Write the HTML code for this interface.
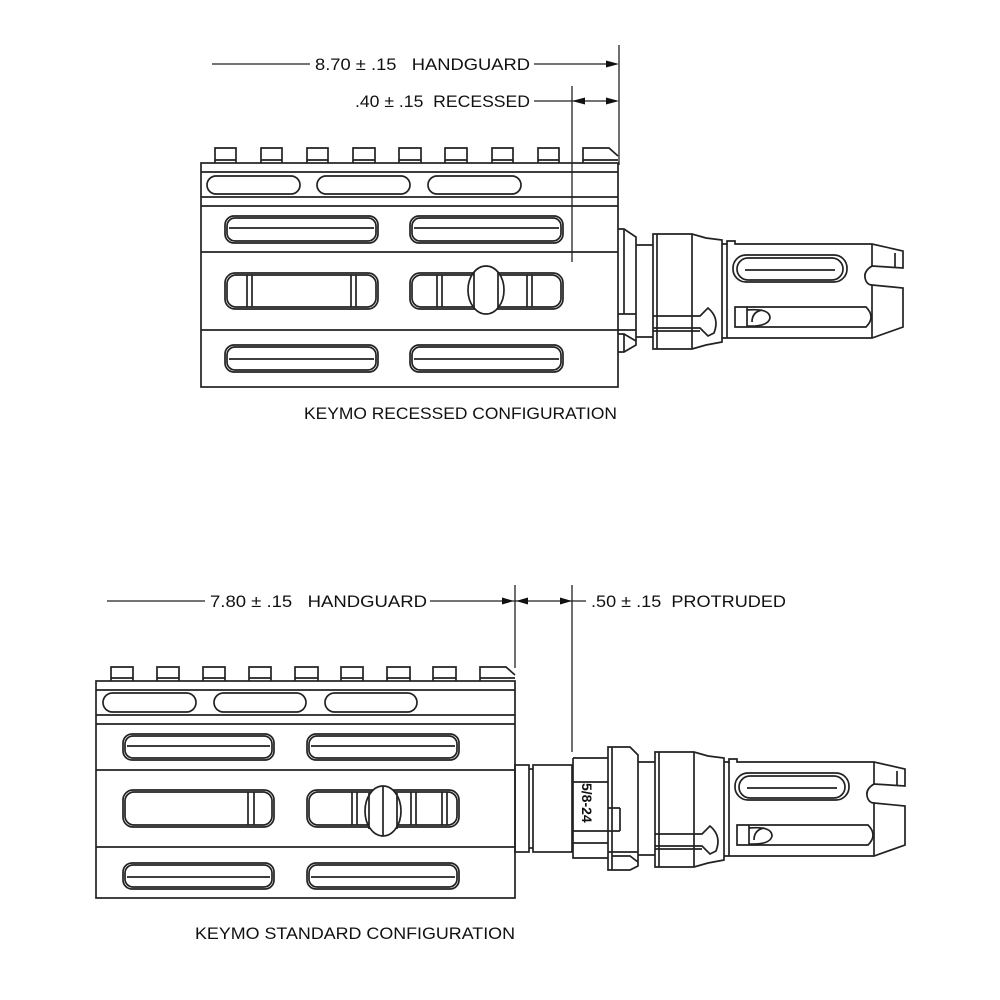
<!DOCTYPE html>
<html><head><meta charset="utf-8"><style>
html,body{margin:0;padding:0;background:#fff;width:1000px;height:1000px;overflow:hidden}
svg{display:block}
text{font-family:"Liberation Sans",sans-serif;font-size:17px;fill:#111}
</style></head><body>
<svg width="1000" height="1000" viewBox="0 0 1000 1000" xmlns="http://www.w3.org/2000/svg">
<defs>
<g id="hider" fill="none" stroke="#222" stroke-width="1.7">
  <path d="M653,234 L692,234 L706,238 L722,240 L722,342 L706,345 L692,349 L653,349 Z"/>
  <line x1="657" y1="234" x2="657" y2="349"/>
  <line x1="692" y1="234" x2="692" y2="349"/>
  <path d="M653,316 L700,316 L708,308 Q720,318 714,333 L708,336 L700,328 L653,328" />
  <line x1="653" y1="331" x2="700" y2="331"/>
  <path d="M722,244 L727,244 L727,241 L735,241 L735,244 L872,244 L903,251 L903,268 L872,266 Q862,272 866,281 Q868,285 872,285 L903,288 L903,327 L872,338 L727,338 L722,338"/>
  <line x1="727" y1="244" x2="727" y2="338"/>
  <line x1="872" y1="244" x2="872" y2="266"/>
  <line x1="872" y1="285" x2="872" y2="338"/>
  <line x1="895" y1="253" x2="895" y2="268"/>
  <rect x="733" y="255" width="114" height="27" rx="13"/>
  <rect x="737" y="258" width="106" height="22" rx="11"/>
  <line x1="745" y1="270" x2="835" y2="270"/>
  <path d="M735,307 L866,307 Q876,317 866,327 L735,327 Z"/>
  <path d="M747,307 L747,327 M747,310 Q770,308 770,318 Q768,327 747,326 M752,322 Q752,312 762,310"/>
</g>
</defs>

<g fill="none" stroke="#222" stroke-width="1.7">
<path d="M215,163 L215,148 L236,148 L236,163 M261,163 L261,148 L282,148 L282,163 M307,163 L307,148 L328,148 L328,163 M353,163 L353,148 L375,148 L375,163 M399,163 L399,148 L421,148 L421,163 M445,163 L445,148 L467,148 L467,163 M492,163 L492,148 L513,148 L513,163 M538,163 L538,148 L559,148 L559,163 M583,163 L583,148 L609,148 L618,156"/>
<path d="M215,160 H236 M261,160 H282 M307,160 H328 M353,160 H375 M399,160 H421 M445,160 H467 M492,160 H513 M538,160 H559 M583,160 H618"/>
<rect x="201" y="163" width="417" height="224"/>
<line x1="201" y1="172" x2="618" y2="172"/>
<line x1="201" y1="197" x2="618" y2="197"/>
<line x1="201" y1="206" x2="618" y2="206"/>
<line x1="201" y1="252" x2="618" y2="252"/>
<line x1="201" y1="330" x2="618" y2="330"/>
<rect x="207" y="176" width="93" height="18" rx="9"/>
<rect x="317" y="176" width="93" height="18" rx="9"/>
<rect x="428" y="176" width="93" height="18" rx="9"/>
<rect x="225" y="216" width="153" height="27" rx="9"/>
<rect x="227" y="218" width="149" height="23" rx="8"/>
<path d="M229,228 H374"/>
<rect x="410" y="216" width="153" height="27" rx="9"/>
<rect x="412" y="218" width="149" height="23" rx="8"/>
<path d="M414,228 H559"/>
<rect x="225" y="273" width="153" height="36" rx="10"/>
<rect x="227" y="275" width="149" height="32" rx="9"/>
<path d="M247,275 V307 M252,275 V307 M351,275 V307 M356,275 V307"/>
<rect x="410" y="273" width="153" height="36" rx="10"/>
<rect x="412" y="275" width="149" height="32" rx="9"/>
<path d="M437,275 V307 M442,275 V307 M527,275 V307 M532,275 V307"/>
<ellipse cx="486" cy="290" rx="18" ry="24" fill="#fff"/>
<path d="M474,272 V308 M498,272 V308"/>
<rect x="225" y="345" width="153" height="27" rx="9"/>
<rect x="227" y="347" width="149" height="23" rx="8"/>
<path d="M229,359 H374"/>
<rect x="410" y="345" width="153" height="27" rx="9"/>
<rect x="412" y="347" width="149" height="23" rx="8"/>
<path d="M414,359 H559"/>
<path d="M618,229 L624,229 L636,237 L636,345 L624,352 L618,352"/>
<path d="M618,314 H636 M618,330 H636 M618,334 L624,334 L636,341"/>
<path d="M624,229 V314 M624,334 V352"/>
<path d="M636,245 H653 M636,337 H653"/>
</g>
<use href="#hider"/>

<g stroke="#222" stroke-width="1.3" fill="none">
<line x1="212" y1="64" x2="310" y2="64"/>
<line x1="534" y1="64" x2="608" y2="64"/>
<line x1="534" y1="101" x2="608" y2="101"/>
<line x1="619" y1="45" x2="619" y2="165"/>
<line x1="572" y1="86" x2="572" y2="262"/>
</g>
<g fill="#111">
<polygon points="619,64 606,60.5 606,67.5"/>
<polygon points="619,101 606,97.5 606,104.5"/>
<polygon points="572,101 585,97.5 585,104.5"/>
</g>
<text x="315" y="70" textLength="215" lengthAdjust="spacingAndGlyphs">8.70 ± .15&#160;&#160;&#160;HANDGUARD</text>
<text x="355" y="107" textLength="175" lengthAdjust="spacingAndGlyphs">.40 ± .15&#160;&#160;RECESSED</text>
<text x="304" y="419" textLength="313" lengthAdjust="spacingAndGlyphs">KEYMO RECESSED CONFIGURATION</text>

<g fill="none" stroke="#222" stroke-width="1.7">
<path d="M111,681 V667 H133 V681 M157,681 V667 H179 V681 M203,681 V667 H225 V681 M249,681 V667 H271 V681 M295,681 V667 H318 V681 M341,681 V667 H363 V681 M387,681 V667 H410 V681 M433,681 V667 H456 V681 M480,681 V667 H506 L515,675"/>
<path d="M111,678 H133 M157,678 H179 M203,678 H225 M249,678 H271 M295,678 H318 M341,678 H363 M387,678 H410 M433,678 H456 M480,678 H515"/>
<rect x="96" y="681" width="419" height="217"/>
<line x1="96" y1="690" x2="515" y2="690"/>
<line x1="96" y1="715" x2="515" y2="715"/>
<line x1="96" y1="724" x2="515" y2="724"/>
<line x1="96" y1="770" x2="515" y2="770"/>
<line x1="96" y1="847" x2="515" y2="847"/>
<rect x="103" y="693" width="93" height="19" rx="9.5"/>
<rect x="214" y="693" width="92" height="19" rx="9.5"/>
<rect x="325" y="693" width="92" height="19" rx="9.5"/>
<rect x="123" y="734" width="151" height="26" rx="9"/>
<rect x="125" y="736" width="147" height="22" rx="8"/>
<path d="M127,746 H270"/>
<rect x="307" y="734" width="152" height="26" rx="9"/>
<rect x="309" y="736" width="148" height="22" rx="8"/>
<path d="M311,746 H455"/>
<rect x="123" y="790" width="151" height="37" rx="10"/>
<rect x="125" y="792" width="147" height="33" rx="9"/>
<path d="M248,792 V825 M254,792 V825"/>
<rect x="307" y="790" width="152" height="37" rx="10"/>
<rect x="309" y="792" width="148" height="33" rx="9"/>
<path d="M352,792 V825 M357,792 V825 M411,792 V825 M416,792 V825 M442,792 V825 M447,792 V825"/>
<ellipse cx="383" cy="811" rx="18" ry="25" fill="#fff"/>
<path d="M383,786 V836 M369,793 V829 M397,793 V829"/>
<rect x="123" y="863" width="151" height="26" rx="9"/>
<rect x="125" y="865" width="147" height="22" rx="8"/>
<path d="M127,877 H270"/>
<rect x="307" y="863" width="152" height="26" rx="9"/>
<rect x="309" y="865" width="148" height="22" rx="8"/>
<path d="M311,877 H455"/>
<rect x="515" y="765" width="14" height="87"/>
<rect x="533" y="765" width="39" height="87"/>
<line x1="529" y1="769" x2="533" y2="769"/>
<line x1="529" y1="848" x2="533" y2="848"/>
<path d="M573,758 H608 M573,758 V858 H608 M573,782 H608 M573,831 H620 M573,843 H608"/>
<path d="M608,747 H630 L638,755 V866 L630,870 H608 Z"/>
<path d="M612,747 V870 M620,808 V831 M608,808 H620 M608,852 H638 M612,856 L630,856 L638,862"/>
<path d="M638,762 H655 M638,855 H655"/>
</g>
<use href="#hider" transform="translate(2,518)"/>
<text x="0" y="0" transform="translate(582,783) rotate(90)" style="font-size:14px;font-weight:bold">5/8-24</text>

<g stroke="#222" stroke-width="1.3" fill="none">
<line x1="107" y1="601" x2="205" y2="601"/>
<line x1="430" y1="601" x2="586" y2="601"/>
<line x1="515" y1="585" x2="515" y2="668"/>
<line x1="572" y1="585" x2="572" y2="752"/>
</g>
<g fill="#111">
<polygon points="514,601 502,597.5 502,604.5"/>
<polygon points="516,601 528,597.5 528,604.5"/>
<polygon points="572,601 560,597.5 560,604.5"/>
</g>
<text x="210" y="607" textLength="217" lengthAdjust="spacingAndGlyphs">7.80 ± .15&#160;&#160;&#160;HANDGUARD</text>
<text x="591" y="607" textLength="195" lengthAdjust="spacingAndGlyphs">.50 ± .15&#160;&#160;PROTRUDED</text>
<text x="195" y="939" textLength="320" lengthAdjust="spacingAndGlyphs">KEYMO STANDARD CONFIGURATION</text>
</svg>
</body></html>
